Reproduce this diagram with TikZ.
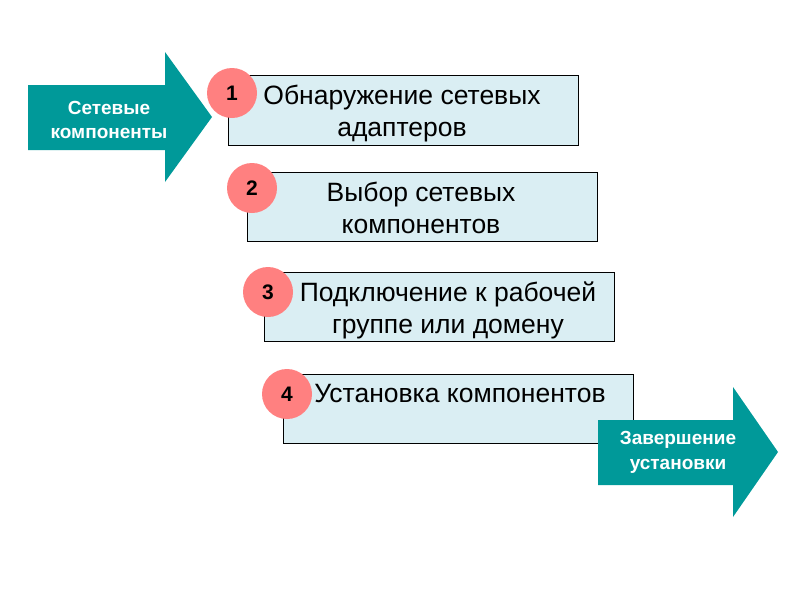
\documentclass[tikz,border=0pt]{standalone}
\usepackage{fontspec}
\setmainfont{Liberation Sans}
\definecolor{teal1}{RGB}{0,153,153}
\definecolor{boxfill}{RGB}{218,238,243}
\definecolor{pink1}{RGB}{255,128,128}
\begin{document}
\begin{tikzpicture}[x=1pt,y=-1pt,
  stepbox/.style={draw=black,line width=0.8pt,fill=boxfill},
  steptext/.style={anchor=north,align=center,font=\fontsize{26.5}{32}\selectfont,inner sep=0pt},
  numcirc/.style={circle,fill=pink1,minimum size=50pt,inner sep=0pt,font=\fontsize{21}{21}\selectfont\bfseries},
  arrowtext/.style={align=center,text=white,font=\fontsize{19}{24.5}\selectfont\bfseries,inner sep=0pt},
  bigarrow/.style={fill=teal1}]
\useasboundingbox (0,0) rectangle (800,600);
\fill[white] (0,0) rectangle (800,600);
% boxes
\draw[stepbox] (228,75) rectangle (578,145);
\node[steptext] (b1) at (402,85) {Обнаружение сетевых\\адаптеров};
\draw[stepbox] (247,172) rectangle (597,241);
\node[steptext] (b2) at (421,182) {Выбор сетевых\\компонентов};
\draw[stepbox] (264,272) rectangle (614,341);
\node[steptext] (b3) at (448,282) {Подключение к рабочей\\группе или домену};
\draw[stepbox] (283,374) rectangle (633,443);
\node[steptext] (b4) at (460,384) {Установка компонентов};
% circles
\node[numcirc] (c1) at (232,93) {1};
\node[numcirc] (c2) at (252,188) {2};
\node[numcirc] (c3) at (268,292) {3};
\node[numcirc] (c4) at (287,394) {4};
% left arrow
\fill[bigarrow] (28,85) -- (165,85) -- (165,52) -- (212,117) -- (165,182) -- (165,150) -- (28,150) -- cycle;
\node[arrowtext] (ain) at (109,120) {Сетевые\\компоненты};
% right arrow
\fill[bigarrow] (598,420) -- (733,420) -- (733,387) -- (778,452) -- (733,517) -- (733,485) -- (598,485) -- cycle;
\node[arrowtext] (aout) at (678,452.5) {Завершение\\установки};
\end{tikzpicture}
\end{document}
